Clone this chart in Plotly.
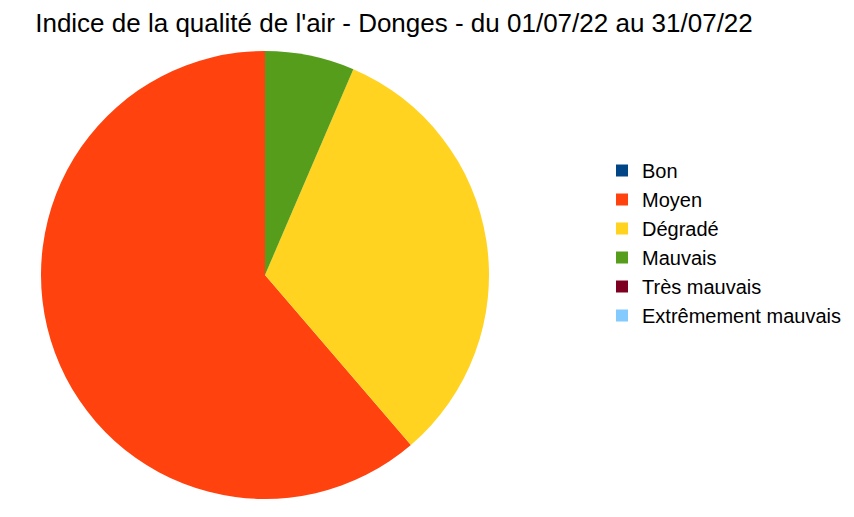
import plotly.graph_objects as go

categories = ["Bon", "Moyen", "Dégradé", "Mauvais", "Très mauvais", "Extrêmement mauvais"]
days = [0, 19, 10, 2, 0, 0]
colors = ["#004586", "#ff420e", "#ffd320", "#579d1c", "#7e0021", "#83caff"]

fig = go.Figure(go.Pie(
    labels=categories,
    values=days,
    marker=dict(colors=colors, line=dict(width=0)),
    sort=False,
    direction="counterclockwise",
    rotation=0,
    textinfo="none",
    hoverinfo="label+value+percent",
    domain=dict(x=[33/854, 481/854], y=[1-491/517, 1-43/517]),
    showlegend=True,
))

fig.update_layout(
    width=854, height=517,
    margin=dict(l=0, r=0, t=0, b=0),
    paper_bgcolor="white",
    font=dict(family="Liberation Sans, Arial, sans-serif", color="black"),
    title=dict(text="Indice de la qualité de l'air - Donges - du 01/07/22 au 31/07/22",
               x=386/854, xanchor="center", y=1-15/517, yanchor="middle",
               font=dict(size=26, family="Liberation Sans, Arial, sans-serif", color="black")),
    legend=dict(x=594/854, y=1-143/517, xanchor="left", yanchor="top",
                font=dict(size=20, family="Liberation Sans, Arial, sans-serif", color="black"),
                itemwidth=30, tracegroupgap=0, traceorder="normal"),
)

fig.write_html("out.html")
